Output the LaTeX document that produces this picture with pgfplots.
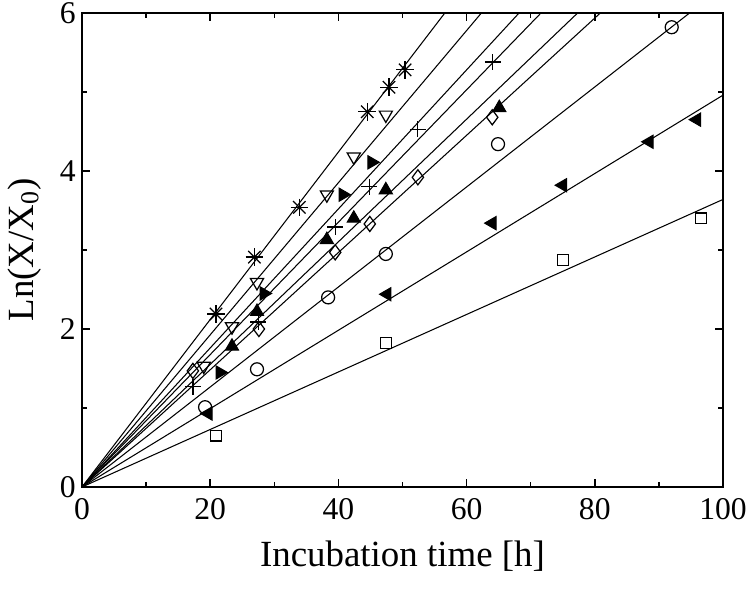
\documentclass[border=0pt]{standalone}
\usepackage{fontspec}
\setmainfont{Liberation Serif}
\usepackage{pgfplots}
\pgfplotsset{compat=1.18}
\begin{document}
\begin{tikzpicture}
\path[use as bounding box] (-1.64cm,-2.10cm) rectangle (13.36cm,9.74cm);
\begin{axis}[
  at={(0,0)}, anchor=south west,
  scale only axis, width=12.82cm, height=9.48cm,
  xmin=0, xmax=100, ymin=0, ymax=6,
  xtick={0,20,...,100}, ytick={0,2,4,6},
  minor x tick num=1, minor y tick num=1,
  tick align=inside, major tick length=0.16cm, minor tick length=0.1cm,
  axis line style={line width=1.1pt},
  every tick/.style={line width=0.9pt, black},
  ticklabel style={font=\fontsize{18}{20}\selectfont},
  label style={font=\fontsize{21}{24}\selectfont},
  /pgf/number format/assume math mode=true,
  xticklabel shift=3pt,
  xlabel shift=5pt,
  ylabel shift=4pt,
  xlabel={Incubation time [h]},
  ylabel={Ln(X/X\textsubscript{0})},
  clip marker paths=true,
  every axis plot/.append style={black, line width=0.6pt},
]
% fitted lines through the origin
\addplot[no marks] coordinates {(0,0) (100,10.6)};
\addplot[no marks] coordinates {(0,0) (100,9.63)};
\addplot[no marks] coordinates {(0,0) (100,8.8)};
\addplot[no marks] coordinates {(0,0) (100,8.38)};
\addplot[no marks] coordinates {(0,0) (100,7.76)};
\addplot[no marks] coordinates {(0,0) (100,7.42)};
\addplot[no marks] coordinates {(0,0) (100,6.33)};
\addplot[no marks] coordinates {(0,0) (100,4.96)};
\addplot[no marks] coordinates {(0,0) (100,3.64)};

% asterisk
\addplot[only marks, mark=+, mark size=5pt, mark options={line width=0.7pt}] coordinates {
  (20.9,2.19) (26.9,2.91) (33.9,3.54) (44.5,4.75) (47.9,5.06) (50.4,5.28)};
\addplot[only marks, mark=x, mark size=5pt, mark options={line width=0.7pt}] coordinates {
  (20.9,2.19) (26.9,2.91) (33.9,3.54) (44.5,4.75) (47.9,5.06) (50.4,5.28)};
% open down triangle
\addplot[only marks, mark=triangle, mark size=4.3pt, mark options={rotate=180, fill=white, line width=0.7pt}] coordinates {
  (19.0,1.53) (23.4,2.03) (27.3,2.59) (38.2,3.70) (42.4,4.18) (47.4,4.71)};
% filled right triangle
\addplot[only marks, mark=triangle*, mark size=4.3pt, mark options={rotate=-90, fill=black}] coordinates {
  (21.5,1.45) (28.4,2.45) (40.7,3.70) (45.2,4.11)};
% plus
\addplot[only marks, mark=+, mark size=4.5pt, mark options={line width=0.7pt}] coordinates {
  (17.3,1.27) (27.5,2.09) (39.5,3.29) (44.8,3.80) (52.4,4.53) (64.1,5.38)};
% filled up triangle
\addplot[only marks, mark=triangle*, mark size=4.3pt, mark options={fill=black}] coordinates {
  (23.4,1.78) (27.3,2.22) (38.2,3.13) (42.4,3.40) (47.4,3.76) (65.1,4.80)};
% open diamond
\addplot[only marks, mark=diamond, mark size=4.3pt, mark options={fill=white, line width=0.7pt}] coordinates {
  (17.3,1.47) (27.6,2.00) (39.5,2.97) (44.9,3.33) (52.4,3.92) (64.0,4.68)};
% open circle
\addplot[only marks, mark=o, mark size=3.7pt, mark options={fill=white, line width=0.7pt}] coordinates {
  (19.2,1.01) (27.3,1.49) (38.4,2.40) (47.4,2.95) (64.9,4.34) (92.0,5.82)};
% filled left triangle
\addplot[only marks, mark=triangle*, mark size=4.3pt, mark options={rotate=90, fill=black}] coordinates {
  (19.7,0.93) (47.6,2.44) (64.0,3.34) (75.0,3.82) (88.5,4.37) (95.9,4.65)};
% open square
\addplot[only marks, mark=square, mark size=3.1pt, mark options={fill=white, line width=0.7pt}] coordinates {
  (20.9,0.65) (47.4,1.82) (75.0,2.87) (96.6,3.40)};
\end{axis}
\end{tikzpicture}
\end{document}
